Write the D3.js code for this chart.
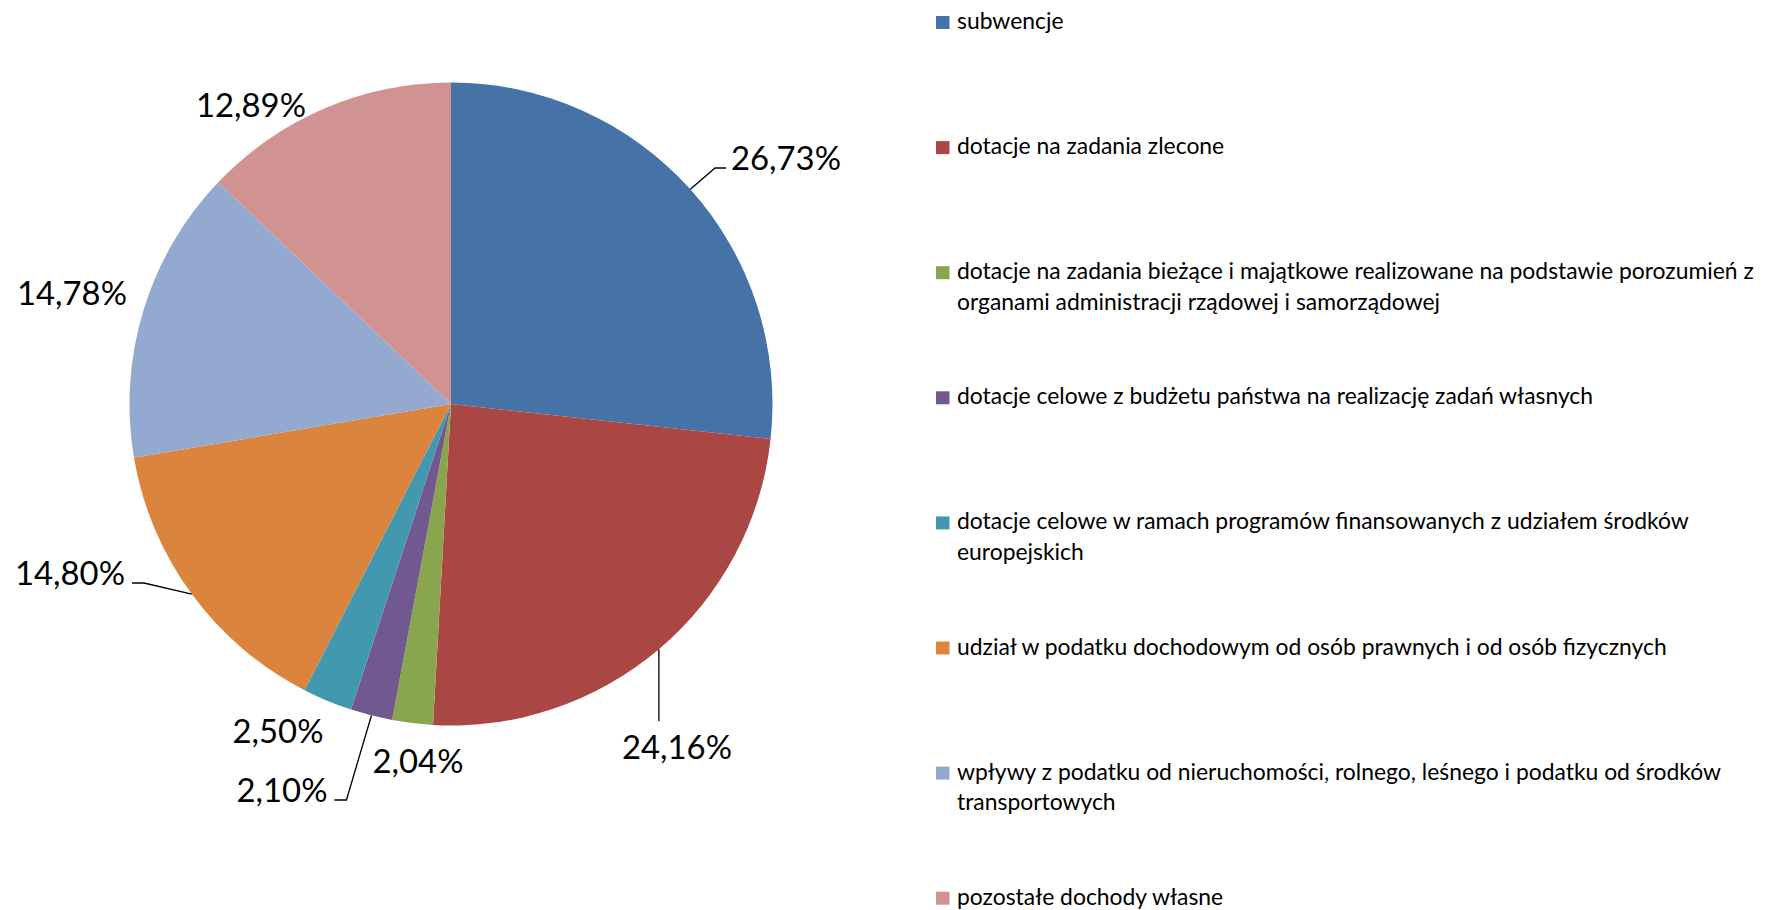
<!DOCTYPE html>
<html><head><meta charset="utf-8">
<script src="https://cdn.jsdelivr.net/npm/d3@7"></script>
<style>html,body{margin:0;padding:0;background:#fff;} svg{display:block}</style>
</head><body><svg id="chart" width="1766" height="910"></svg>
<script>
// ---- data ----
const categories = [
  "subwencje",
  "dotacje na zadania zlecone",
  "dotacje na zadania bieżące i majątkowe realizowane na podstawie porozumień z organami administracji rządowej i samorządowej",
  "dotacje celowe z budżetu państwa na realizację zadań własnych",
  "dotacje celowe w ramach programów finansowanych z udziałem środków europejskich",
  "udział w podatku dochodowym od osób prawnych i od osób fizycznych",
  "wpływy z podatku od nieruchomości, rolnego, leśnego i podatku od środków transportowych",
  "pozostałe dochody własne"
];
const values = [26.73, 24.16, 2.04, 2.10, 2.50, 14.80, 14.78, 12.89];
const valueLabels = ["26,73%", "24,16%", "2,04%", "2,10%", "2,50%", "14,80%", "14,78%", "12,89%"];
const colors = ["#4572A7", "#AA4643", "#89A54E", "#71588F", "#4198AF", "#DB843D", "#93A9CF", "#D19392"];

// ---- layout (not data) ----
const W = 1766, H = 910;
const cx = 451, cy = 404, R = 321.5;
// label placement: center x offset and baseline offset from pie center, leader type
const labelLayout = [
  {dx: 335, by: -234, leader: "side"},
  {dx: 226, by: 355, leader: "vertical"},
  {dx: -33, by: 369, leader: null},
  {dx: -169, by: 398, leader: "side"},
  {dx: -173, by: 339, leader: null},
  {dx: -381, by: 181, leader: "side"},
  {dx: -379, by: -99, leader: null},
  {dx: -200, by: -287, leader: null}
];
const legendX = 936, legendTextX = 957, legendTop = 29, legendStep = 125.1, legendLineGap = 30.5;
const fontFamily = "Lato, 'Open Sans', sans-serif";

const svg = d3.select("#chart");

// fit fonts
function measure(txt, size) {
  const t = svg.append("text").attr("font-family", fontFamily).attr("font-size", size).text(txt);
  const w = t.node().getComputedTextLength();
  t.remove();
  return w;
}
const labelFont = 100 * 110 / measure("26,73%", 100);
const legendFont = 100 * 797 / measure("dotacje na zadania bieżące i majątkowe realizowane na podstawie porozumień z", 100);

// ---- pie ----
const pie = d3.pie().sort(null).value(d => d).startAngle(0).endAngle(2 * Math.PI);
const arcs = pie(values);
const arcGen = d3.arc().innerRadius(0).outerRadius(R);
const g = svg.append("g").attr("transform", `translate(${cx},${cy})`);
g.selectAll("path.slice").data(arcs).join("path")
  .attr("class", "slice")
  .attr("d", arcGen)
  .attr("fill", (d, i) => colors[i]);

// ---- labels ----
const lg = g.append("g");
arcs.forEach((a, i) => {
  const L = labelLayout[i];
  const t = lg.append("text")
    .attr("x", L.dx).attr("y", L.by)
    .attr("text-anchor", "middle")
    .attr("font-family", fontFamily)
    .attr("font-size", labelFont)
    .attr("fill", "#000")
    .text(valueLabels[i]);
  if (!L.leader) return;
  const mid = (a.startAngle + a.endAngle) / 2;
  const px = R * Math.sin(mid), py = -R * Math.cos(mid);
  const w = t.node().getComputedTextLength();
  let pts;
  if (L.leader === "side") {
    const ly = L.by - 2;
    if (px < L.dx) { // label to the right of the arc point
      const ex = L.dx - w / 2 - 5;
      pts = [[px, py], [ex - 11, ly], [ex, ly]];
    } else {
      const ex = L.dx + w / 2 + 7;
      pts = [[px, py], [ex + 12, ly], [ex, ly]];
    }
  } else {
    pts = [[px, py], [px, L.by - labelFont * 0.72 - 14]];
  }
  lg.append("path")
    .attr("d", d3.line()(pts))
    .attr("fill", "none")
    .attr("stroke", "#000")
    .attr("stroke-width", 1.3);
});

// ---- legend ----
const leg = svg.append("g");
const maxLegendWidth = W - legendTextX - 2;
categories.forEach((c, i) => {
  const base = legendTop + i * legendStep;
  leg.append("rect")
    .attr("x", legendX).attr("y", base - 13)
    .attr("width", 13.5).attr("height", 13)
    .attr("fill", colors[i]);
  // wrap words
  const words = c.split(" ");
  const lines = [];
  let cur = "";
  words.forEach(wd => {
    const test = cur ? cur + " " + wd : wd;
    if (cur && measure(test, legendFont) > maxLegendWidth) { lines.push(cur); cur = wd; }
    else cur = test;
  });
  if (cur) lines.push(cur);
  lines.forEach((ln, j) => {
    leg.append("text")
      .attr("x", legendTextX).attr("y", base + j * legendLineGap)
      .attr("font-family", fontFamily)
      .attr("font-size", legendFont)
      .attr("fill", "#000")
      .text(ln);
  });
});
</script>
</body></html>
